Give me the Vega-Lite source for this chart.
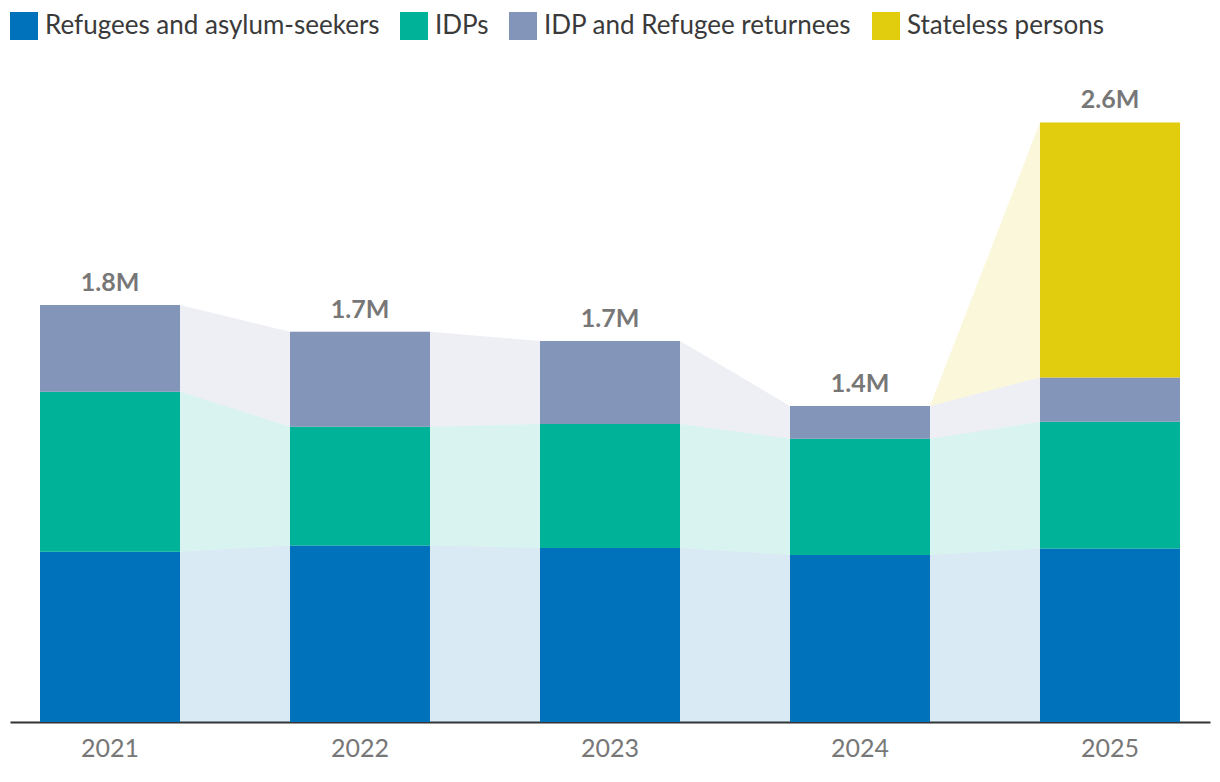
{
  "$schema": "https://vega.github.io/schema/vega-lite/v6.json",
  "width": 1200,
  "height": 667,
  "autosize": "none",
  "padding": {"left": 10, "top": 55, "right": 10, "bottom": 60},
  "background": "white",
  "config": {
    "font": "Lato",
    "view": {"stroke": null},
    "legend": {
      "orient": "top",
      "direction": "horizontal",
      "title": null,
      "symbolType": "square",
      "symbolSize": 784,
      "symbolStrokeWidth": 0,
      "symbolOpacity": 1,
      "labelFontSize": 26,
      "labelFont": "Lato",
      "labelColor": "#3a3a3a",
      "labelOffset": 7,
      "labelLimit": 600,
      "columnPadding": 20,
      "offset": 15,
      "padding": 0
    }
  },
  "data": {
    "values": [
      {"year": "2021", "series": "Refugees and asylum-seekers", "rank": 1, "value": 740000, "sides": ["L", "R"]},
      {"year": "2021", "series": "IDPs", "rank": 2, "value": 696000, "sides": ["L", "R"]},
      {"year": "2021", "series": "IDP and Refugee returnees", "rank": 3, "value": 377000, "sides": ["L", "R"]},
      {"year": "2021", "series": "Stateless persons", "rank": 4, "value": 0, "sides": ["L", "R"]},
      {"year": "2022", "series": "Refugees and asylum-seekers", "rank": 1, "value": 767000, "sides": ["L", "R"]},
      {"year": "2022", "series": "IDPs", "rank": 2, "value": 517000, "sides": ["L", "R"]},
      {"year": "2022", "series": "IDP and Refugee returnees", "rank": 3, "value": 413000, "sides": ["L", "R"]},
      {"year": "2022", "series": "Stateless persons", "rank": 4, "value": 0, "sides": ["L", "R"]},
      {"year": "2023", "series": "Refugees and asylum-seekers", "rank": 1, "value": 757000, "sides": ["L", "R"]},
      {"year": "2023", "series": "IDPs", "rank": 2, "value": 539000, "sides": ["L", "R"]},
      {"year": "2023", "series": "IDP and Refugee returnees", "rank": 3, "value": 361000, "sides": ["L", "R"]},
      {"year": "2023", "series": "Stateless persons", "rank": 4, "value": 0, "sides": ["L", "R"]},
      {"year": "2024", "series": "Refugees and asylum-seekers", "rank": 1, "value": 726000, "sides": ["L", "R"]},
      {"year": "2024", "series": "IDPs", "rank": 2, "value": 506000, "sides": ["L", "R"]},
      {"year": "2024", "series": "IDP and Refugee returnees", "rank": 3, "value": 142000, "sides": ["L", "R"]},
      {"year": "2024", "series": "Stateless persons", "rank": 4, "value": 0, "sides": ["L", "R"]},
      {"year": "2025", "series": "Refugees and asylum-seekers", "rank": 1, "value": 754000, "sides": ["L", "R"]},
      {"year": "2025", "series": "IDPs", "rank": 2, "value": 551000, "sides": ["L", "R"]},
      {"year": "2025", "series": "IDP and Refugee returnees", "rank": 3, "value": 193000, "sides": ["L", "R"]},
      {"year": "2025", "series": "Stateless persons", "rank": 4, "value": 1109000, "sides": ["L", "R"]}
    ]
  },
  "encoding": {
    "x": {
      "field": "year",
      "type": "nominal",
      "scale": {"type": "band", "paddingInner": 0.44, "paddingOuter": 0.12},
      "axis": {
        "title": null,
        "labelAngle": 0,
        "labelFontSize": 25,
        "labelColor": "#777777",
        "labelPadding": 14,
        "ticks": false,
        "domainColor": "#333333",
        "domainWidth": 2,
        "grid": false
      }
    }
  },
  "resolve": {"scale": {"xOffset": "independent"}},
  "layer": [
    {
      "transform": [{"flatten": ["sides"], "as": ["side"]}],
      "mark": {"type": "area", "opacity": 0.15, "interpolate": "linear"},
      "encoding": {
        "x": {"field": "year", "type": "nominal", "bandPosition": 0},
        "xOffset": {"field": "side", "type": "nominal", "scale": {"type": "point", "padding": 0, "domain": ["L", "R"]}},
        "y": {"field": "value", "type": "quantitative", "stack": "zero", "scale": {"domain": [0, 2900000], "nice": false}, "axis": null},
        "color": {"field": "series", "type": "nominal",
          "scale": {"domain": ["Refugees and asylum-seekers", "IDPs", "IDP and Refugee returnees", "Stateless persons"], "range": ["#0072BC", "#00B398", "#8395B9", "#E1CC0D"]}},
        "order": {"field": "rank", "type": "quantitative", "sort": "ascending"}
      }
    },
    {
      "mark": {"type": "bar"},
      "encoding": {
        "y": {"field": "value", "type": "quantitative", "stack": "zero", "axis": null},
        "color": {"field": "series", "type": "nominal"},
        "order": {"field": "rank", "type": "quantitative", "sort": "ascending"}
      }
    },
    {
      "mark": {"type": "text", "fontSize": 25, "fontWeight": "bold", "color": "#777777", "baseline": "alphabetic", "dy": -14},
      "encoding": {
        "y": {"aggregate": "sum", "field": "value", "type": "quantitative", "axis": null},
        "text": {"aggregate": "sum", "field": "value", "type": "quantitative", "format": ".2s"}
      }
    }
  ]
}
